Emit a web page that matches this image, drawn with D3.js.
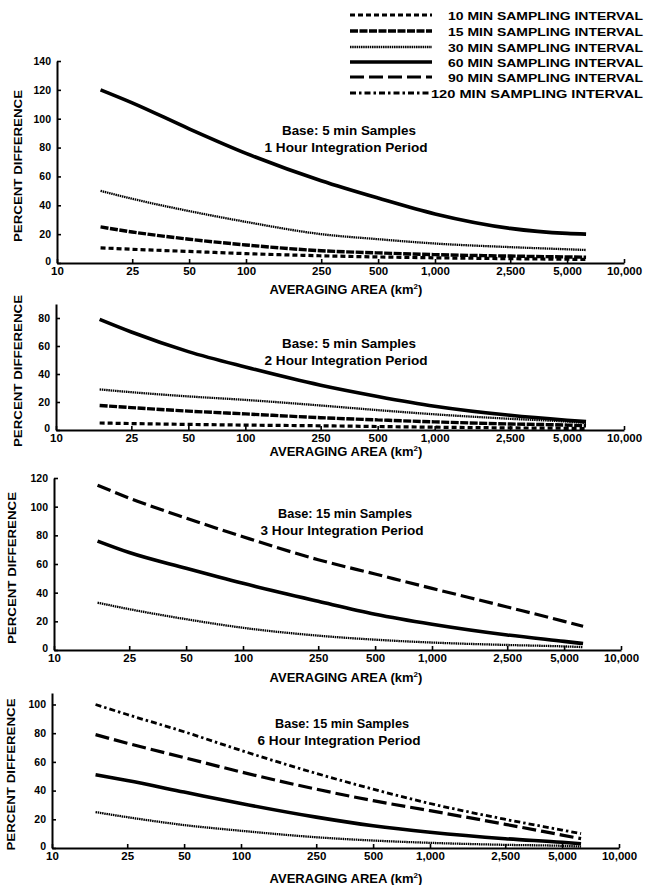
<!DOCTYPE html>
<html><head><meta charset="utf-8">
<script src="https://cdn.jsdelivr.net/npm/d3@7"></script>
<style>
body{margin:0;background:#fff;}
svg text{font-family:"Liberation Sans",Arial,sans-serif;font-weight:bold;fill:#000;}
</style></head>
<body><svg id="c" width="647" height="885"></svg>
<script>
// ---- data ----
const areas = [17, 25, 50, 100, 250, 500, 1000, 2500, 5000, 6300];
const xTickValues = [10, 25, 50, 100, 250, 500, 1000, 2500, 5000, 10000];
const xTickLabels = ["10", "25", "50", "100", "250", "500", "1,000", "2,500", "5,000", "10,000"];
const intervalNames = ["10 MIN SAMPLING INTERVAL", "15 MIN SAMPLING INTERVAL", "30 MIN SAMPLING INTERVAL",
  "60 MIN SAMPLING INTERVAL", "90 MIN SAMPLING INTERVAL", "120 MIN SAMPLING INTERVAL"];
const panelTitles1 = ["Base: 5 min Samples", "Base: 5 min Samples", "Base: 15 min Samples", "Base: 15 min Samples"];
const panelTitles2 = ["1 Hour Integration Period", "2 Hour Integration Period", "3 Hour Integration Period", "6 Hour Integration Period"];
const yTicks1 = [0, 20, 40, 60, 80, 100, 120, 140];
const yTicks2 = [0, 20, 40, 60, 80];
const yTicks3 = [0, 20, 40, 60, 80, 100, 120];
const yTicks4 = [0, 20, 40, 60, 80, 100];
// panel 1: base 5 min, 1 hour
const p1_10 = [10.5, 9.5, 8, 6.5, 5, 4.2, 3.6, 3, 2.6, 2.5];
const p1_15 = [25, 21.5, 16.5, 12.5, 8.5, 7, 5.8, 4.8, 4.2, 4];
const p1_30 = [50, 44.5, 36, 28.5, 20, 16.5, 13.5, 11, 9.5, 9];
const p1_60 = [120, 111, 93, 76, 57, 45, 34, 24, 20.5, 20];
// panel 2: base 5 min, 2 hour
const p2_10 = [5, 4.6, 4, 3.5, 3, 2.5, 2, 1.5, 1.2, 1];
const p2_15 = [17.5, 16, 13.5, 11.5, 8.8, 7.2, 5.8, 4.3, 3.5, 3];
const p2_30 = [29, 27, 24, 21.5, 17.5, 14.2, 11.2, 8, 6, 5];
const p2_60 = [79, 70, 56, 45, 32, 24, 17, 10.5, 7, 6];
// panel 3: base 15 min, 3 hour
const p3_30 = [33, 28.5, 21.5, 15.5, 10, 7.2, 5.2, 3.5, 2.5, 2];
const p3_60 = [76, 68, 57, 46.5, 34, 25, 18, 10.5, 6, 4.5];
const p3_90 = [115, 106, 92, 79, 63, 53, 43, 30, 20, 16.5];
// panel 4: base 15 min, 6 hour
const p4_30 = [25, 21.5, 16, 12, 7.5, 5.2, 3.6, 2.2, 1.5, 1];
const p4_60 = [51, 47, 39, 31, 21.5, 15.5, 11, 6.5, 4, 3];
const p4_90 = [79, 73, 63, 53, 41, 33, 26, 16.5, 9, 6.5];
const p4_120 = [100, 93, 81, 68, 52, 41, 31, 20, 12.5, 10];

// ---- styles per interval ----
const styles = {
  "10":  {w: 3.2, dash: "5,3"},
  "15":  {w: 3.4, dash: "8,1.5"},
  "30":  {w: 2.3, dash: "1.5,0.7"},
  "60":  {w: 3.6, dash: null},
  "90":  {w: 3.2, dash: "14,5"},
  "120": {w: 2.8, dash: "6,3,2.5,3"}
};
const intervalKeys = ["10", "15", "30", "60", "90", "120"];

const panels = [
  {xr: [57, 624], y0: 263, top: 61, ymax: 140, ticks: yTicks1, series: [["10", p1_10], ["15", p1_15], ["30", p1_30], ["60", p1_60]],
   tcx: 349, tby: 135, axy: 294, ylx: 22},
  {xr: [56, 624], y0: 430, top: 304, ymax: 90, ticks: yTicks2, series: [["10", p2_10], ["15", p2_15], ["30", p2_30], ["60", p2_60]],
   tcx: 349, tby: 348, axy: 456, ylx: 22},
  {xr: [54, 621], y0: 650, top: 478, ymax: 120, ticks: yTicks3, series: [["30", p3_30], ["60", p3_60], ["90", p3_90]],
   tcx: 345, tby: 518, axy: 682, ylx: 16},
  {xr: [52, 619], y0: 848, top: 693, ymax: 108, ticks: yTicks4, series: [["30", p4_30], ["60", p4_60], ["90", p4_90], ["120", p4_120]],
   tcx: 342, tby: 728, axy: 883, ylx: 15}
];

const svg = d3.select("#c");

panels.forEach((p, i) => {
  const x = d3.scaleLog().domain([10, 10000]).range(p.xr);
  const y = d3.scaleLinear().domain([0, p.ymax]).range([p.y0, p.top]);
  const g = svg.append("g");

  const xa = d3.axisBottom(x).tickValues(xTickValues)
    .tickFormat((d, k) => xTickLabels[k]).tickSizeInner(-4).tickSizeOuter(0).tickPadding(4);
  const gx = g.append("g").attr("transform", `translate(0,${p.y0})`).call(xa);
  gx.select(".domain").attr("stroke", "#000").attr("stroke-width", 2);
  gx.selectAll(".tick line").attr("stroke", "#000").attr("stroke-width", 1.6);
  gx.selectAll(".tick text").attr("font-size", 11.5).attr("font-family", "Liberation Sans, Arial, sans-serif").attr("font-weight", "bold");

  const ya = d3.axisLeft(y).tickValues(p.ticks).tickSizeInner(-4).tickSizeOuter(0).tickPadding(6);
  const gy = g.append("g").attr("transform", `translate(${p.xr[0]},0)`).call(ya);
  gy.select(".domain").attr("stroke", "#000").attr("stroke-width", 2);
  gy.selectAll(".tick line").attr("stroke", "#000").attr("stroke-width", 1.6);
  gy.selectAll(".tick text").attr("font-size", 10.5).attr("font-family", "Liberation Sans, Arial, sans-serif").attr("font-weight", "bold");
  gy.selectAll(".tick").filter(d => d === 0).select("text").attr("dy", "0.1em");

  const line = d3.line().x((d, k) => x(areas[k])).y(d => y(d)).curve(d3.curveMonotoneX);
  p.series.forEach(([key, vals]) => {
    const st = styles[key];
    g.append("path").attr("d", line(vals)).attr("fill", "none").attr("stroke", "#000")
      .attr("stroke-width", st.w).attr("stroke-dasharray", st.dash).attr("stroke-linecap", "butt");
  });

  g.append("text").attr("x", p.tcx).attr("y", p.tby).attr("text-anchor", "middle").attr("font-size", 12)
    .attr("textLength", 134).attr("lengthAdjust", "spacingAndGlyphs").text(panelTitles1[i]);
  g.append("text").attr("x", p.tcx - 3).attr("y", p.tby + 17).attr("text-anchor", "middle").attr("font-size", 12)
    .attr("textLength", 163).attr("lengthAdjust", "spacingAndGlyphs").text(panelTitles2[i]);

  const axt = g.append("text").attr("x", 346).attr("y", p.axy).attr("text-anchor", "middle").attr("font-size", 13);
  axt.append("tspan").text("AVERAGING AREA (km");
  axt.append("tspan").attr("font-size", 8).attr("dy", -5).text("2");
  axt.append("tspan").attr("dy", 5).text(")");

  g.append("text").attr("transform", `translate(${p.ylx},${(p.y0 + p.top) / 2 + 4}) rotate(-90)`)
    .attr("text-anchor", "middle").attr("font-size", 10).attr("textLength", 152).attr("lengthAdjust", "spacingAndGlyphs")
    .text("PERCENT DIFFERENCE");
});

// legend
const legY = [15, 31, 47, 62, 77, 93];
intervalKeys.forEach((key, k) => {
  const st = styles[key];
  svg.append("line").attr("x1", 350).attr("x2", key === "120" ? 429 : 432).attr("y1", legY[k]).attr("y2", legY[k])
    .attr("stroke", "#000").attr("stroke-width", st.w).attr("stroke-dasharray", st.dash);
  svg.append("text").attr("x", 643).attr("y", legY[k] + 4.5).attr("text-anchor", "end").attr("font-size", 11.5)
    .attr("textLength", key === "120" ? 212 : 195).attr("lengthAdjust", "spacingAndGlyphs")
    .text(intervalNames[k]);
});
</script></body></html>
